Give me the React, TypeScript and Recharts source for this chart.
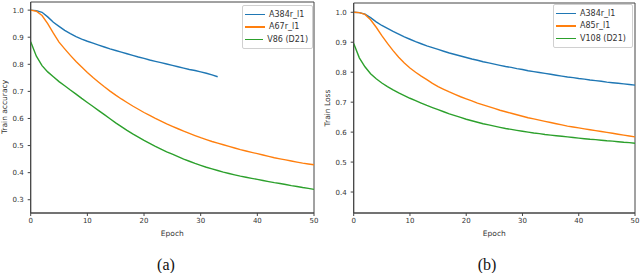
import React from 'react'
import { LineChart, Line, XAxis, YAxis, ReferenceArea } from 'recharts'

const epochs = Array.from({ length: 51 }, (_, i) => i)
const epochTicks = [0, 10, 20, 30, 40, 50]

// (a) train accuracy
const accTicks = [0.3, 0.4, 0.5, 0.6, 0.7, 0.8, 0.9, 1.0]
const accA384 = [
  1.0, 0.998, 0.992, 0.975, 0.955, 0.94, 0.925, 0.913, 0.902, 0.893, 0.885, 0.878, 0.871, 0.864, 0.857,
  0.851, 0.845, 0.839, 0.833, 0.827, 0.822, 0.816, 0.811, 0.806, 0.801, 0.796, 0.791, 0.786, 0.781, 0.777,
  0.772, 0.767, 0.761, 0.754,
]
const accA67 = [
  1.0, 0.996, 0.98, 0.95, 0.915, 0.882, 0.857, 0.833, 0.81, 0.79, 0.77, 0.751, 0.734, 0.717, 0.701, 0.686,
  0.672, 0.659, 0.646, 0.634, 0.622, 0.611, 0.6, 0.59, 0.58, 0.571, 0.562, 0.553, 0.545, 0.537, 0.529,
  0.522, 0.515, 0.509, 0.503, 0.497, 0.491, 0.485, 0.48, 0.475, 0.47, 0.465, 0.46, 0.455, 0.451, 0.447,
  0.443, 0.439, 0.435, 0.432, 0.429,
]
const accV86 = [
  0.883, 0.83, 0.795, 0.772, 0.754, 0.736, 0.721, 0.705, 0.69, 0.674, 0.659, 0.644, 0.629, 0.614, 0.599,
  0.584, 0.57, 0.556, 0.543, 0.531, 0.519, 0.508, 0.497, 0.487, 0.477, 0.468, 0.459, 0.45, 0.442, 0.434,
  0.427, 0.42, 0.414, 0.408, 0.402, 0.397, 0.392, 0.387, 0.383, 0.379, 0.375, 0.371, 0.367, 0.363, 0.36,
  0.356, 0.352, 0.349, 0.345, 0.342, 0.338,
]

// (b) train loss
const lossTicks = [0.4, 0.5, 0.6, 0.7, 0.8, 0.9, 1.0]
const lossA384 = [
  1.0, 0.999, 0.994, 0.982, 0.968, 0.956, 0.946, 0.936, 0.927, 0.918, 0.91, 0.902, 0.895, 0.888, 0.882,
  0.876, 0.87, 0.864, 0.859, 0.854, 0.849, 0.844, 0.84, 0.835, 0.831, 0.827, 0.823, 0.819, 0.816, 0.812,
  0.809, 0.805, 0.802, 0.799, 0.796, 0.793, 0.79, 0.787, 0.784, 0.782, 0.779, 0.777, 0.774, 0.772, 0.77,
  0.767, 0.765, 0.763, 0.761, 0.759, 0.757,
]
const lossA85 = [
  1.0, 0.999, 0.993, 0.975, 0.95, 0.922, 0.896, 0.872, 0.85, 0.831, 0.814, 0.8, 0.787, 0.775, 0.763,
  0.752, 0.743, 0.734, 0.726, 0.718, 0.711, 0.704, 0.697, 0.691, 0.685, 0.679, 0.673, 0.668, 0.663, 0.658,
  0.653, 0.648, 0.644, 0.64, 0.636, 0.632, 0.628, 0.624, 0.62, 0.617, 0.614, 0.611, 0.608, 0.605, 0.602,
  0.599, 0.596, 0.593, 0.59, 0.587, 0.584,
]
const lossV108 = [
  0.896, 0.848, 0.818, 0.795, 0.778, 0.764, 0.752, 0.741, 0.731, 0.722, 0.713, 0.705, 0.697, 0.689, 0.682,
  0.675, 0.668, 0.661, 0.655, 0.649, 0.643, 0.638, 0.633, 0.628, 0.624, 0.62, 0.616, 0.612, 0.609, 0.606,
  0.603, 0.6, 0.597, 0.595, 0.592, 0.59, 0.588, 0.586, 0.584, 0.582, 0.58, 0.578, 0.576, 0.575, 0.573,
  0.571, 0.57, 0.568, 0.566, 0.565, 0.563,
]

const BLUE = '#1f77b4'
const ORANGE = '#ff7f0e'
const GREEN = '#2ca02c'
const FONT = '"DejaVu Sans", sans-serif'
const AXIS = '#444'

function rows(a: number[], b: number[], c: number[]) {
  return epochs.map(e => ({ epoch: e, a: a[e], b: b[e], c: c[e] }))
}

function LegendBox({ names, left, top, width }: { names: string[]; left: number; top: number; width: number }) {
  const colors = [BLUE, ORANGE, GREEN]
  return (
    <div
      style={{
        position: 'absolute',
        left,
        top,
        width,
        boxSizing: 'border-box',
        border: '1px solid #d0d0d0',
        borderRadius: 2,
        background: 'rgba(255,255,255,0.85)',
        padding: '2px 4px 2px 2px',
        fontFamily: FONT,
        fontSize: 8,
        color: '#333',
      }}
    >
      {names.map((n, i) => (
        <div key={n} style={{ display: 'flex', alignItems: 'center', height: 12.5 }}>
          <span style={{ display: 'inline-block', width: 20, height: 1.5, background: colors[i], marginRight: 4 }} />
          <span style={{ whiteSpace: 'nowrap' }}>{n}</span>
        </div>
      ))}
    </div>
  )
}

interface PanelProps {
  left: number
  data: { epoch: number; a?: number; b?: number; c?: number }[]
  names: string[]
  yTicks: number[]
  yDomain: [number, number]
  yWidth: number
  top: number
  right: number
  legendLeft: number
  legendTop: number
  legendWidth: number
}

function Panel({ left, data, names, yTicks, yDomain, yWidth, top, right, legendLeft, legendTop, legendWidth }: PanelProps) {
  const tick = { fontSize: 7, fill: '#333', fontFamily: FONT }
  return (
    <div style={{ position: 'absolute', left, top: 0, width: 320, height: 245 }}>
      <LineChart width={320} height={245} data={data} margin={{ top, right, bottom: 0, left: 0 }}>
        <XAxis
          dataKey="epoch"
          type="number"
          domain={[0, 50]}
          ticks={epochTicks}
          allowDataOverflow
          height={32}
          tick={tick}
          tickSize={3}
          tickMargin={2}
          stroke={AXIS}
          label={{ value: 'Epoch', position: 'insideBottom', offset: 9, fontSize: 7.5, fill: '#333', fontFamily: FONT }}
        />
        <YAxis
          type="number"
          domain={yDomain}
          ticks={yTicks}
          allowDataOverflow
          width={yWidth}
          tick={tick}
          tickSize={3}
          tickMargin={4}
          stroke={AXIS}
          tickFormatter={(v: number) => v.toFixed(1)}
        />
        <ReferenceArea x1={0} x2={50} y1={yDomain[0]} y2={yDomain[1]} fill="none" stroke={AXIS} strokeWidth={1} />
        <Line dataKey="a" stroke={BLUE} strokeWidth={1.4} dot={false} isAnimationActive={false} />
        <Line dataKey="b" stroke={ORANGE} strokeWidth={1.4} dot={false} isAnimationActive={false} />
        <Line dataKey="c" stroke={GREEN} strokeWidth={1.4} dot={false} isAnimationActive={false} />
      </LineChart>
      <LegendBox names={names} left={legendLeft} top={legendTop} width={legendWidth} />
    </div>
  )
}

const yTitle: React.CSSProperties = {
  position: 'absolute',
  transform: 'translate(-50%, -50%) rotate(-90deg)',
  whiteSpace: 'nowrap',
  fontSize: 7.5,
  fontFamily: FONT,
  color: '#333',
}

const caption: React.CSSProperties = {
  position: 'absolute',
  transform: 'translate(-50%, -50%)',
  fontFamily: '"Liberation Serif", serif',
  fontSize: 16,
  color: '#111',
}

export default function App() {
  return (
    <div style={{ position: 'absolute', left: 0, top: 0, width: 640, height: 273, background: '#fff' }}>
      <Panel
        left={0}
        data={rows(accA384, accA67, accV86)}
        names={['A384r_l1', 'A67r_l1', 'V86 (D21)']}
        yTicks={accTicks}
        yDomain={[0.251, 1.03]}
        yWidth={30.7}
        top={2}
        right={6}
        legendLeft={242}
        legendTop={5}
        legendWidth={71}
      />
      <Panel
        left={320}
        data={rows(lossA384, lossA85, lossV108)}
        names={['A384r_l1', 'A85r_l1', 'V108 (D21)']}
        yTicks={lossTicks}
        yDomain={[0.33, 1.031]}
        yWidth={33.7}
        top={3}
        right={5}
        legendLeft={233}
        legendTop={4}
        legendWidth={80}
      />
      <div style={{ ...yTitle, left: 4, top: 107 }}>Train accuracy</div>
      <div style={{ ...yTitle, left: 327, top: 108 }}>Train Loss</div>
      <div style={{ ...caption, left: 166, top: 265 }}>(a)</div>
      <div style={{ ...caption, left: 487, top: 265 }}>(b)</div>
    </div>
  )
}
